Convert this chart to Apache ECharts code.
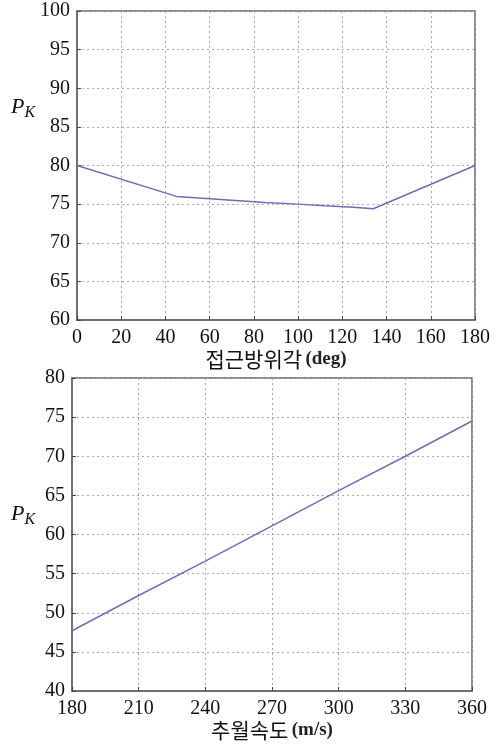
<!DOCTYPE html>
<html>
<head>
<meta charset="utf-8">
<script src="https://cdn.jsdelivr.net/npm/echarts@6/dist/echarts.min.js"></script>
<style>
  html, body { margin: 0; padding: 0; background: #fff; }
  #chart { width: 497px; height: 744px; }
</style>
</head>
<body>
<div id="chart"></div>
<script>
// top plot: approach azimuth (deg) vs P_K
var angleDeg = [0, 45, 55, 65, 75, 85, 100, 112, 125, 134, 180];
var pkAngle = [80, 76, 75.8, 75.6, 75.4, 75.2, 75.0, 74.8, 74.6, 74.4, 80];

// bottom plot: overtaking speed (m/s) vs P_K
var speed = [180, 210, 240, 270, 300, 330, 360];
var pkSpeed = [47.7, 52.2, 56.6, 61.1, 65.6, 70.0, 74.5];

var serif = '"Liberation Serif", "Times New Roman", serif';
var kr = '"Noto Sans CJK KR", sans-serif';
var lineColor = '#6e6eb0';
var gridLine = { show: true, lineStyle: { color: '#a8a8a8', type: [2, 3], width: 1 } };

function pair(xs, ys) {
  return xs.map(function (x, i) { return [x, ys[i]]; });
}

function xAxisCfg(idx, min, max, interval, name, gap) {
  return {
    type: 'value', gridIndex: idx, min: min, max: max, interval: interval,
    axisLine: { show: true, lineStyle: { color: '#666', width: 1.5 } },
    axisTick: { show: true, inside: true, length: 4, lineStyle: { color: '#444' } },
    axisLabel: { color: '#111', fontFamily: serif, fontSize: 20, margin: 8 },
    splitLine: gridLine,
    name: name, nameLocation: 'middle', nameGap: gap,
    nameTextStyle: {
      rich: {
        k: { fontFamily: kr, fontSize: 21, color: '#111' },
        u: { fontFamily: serif, fontSize: 19, fontWeight: 'bold', color: '#222' }
      }
    }
  };
}

function yAxisCfg(idx, min, max) {
  return {
    type: 'value', gridIndex: idx, min: min, max: max, interval: 5,
    axisLine: { show: true, lineStyle: { color: '#666', width: 1.5 } },
    axisTick: { show: true, inside: true, length: 4, lineStyle: { color: '#444' } },
    axisLabel: { color: '#111', fontFamily: serif, fontSize: 20, margin: 7 },
    splitLine: gridLine
  };
}

var pkText = {
  text: '{p|P}{s|K}',
  rich: {
    p: { fontFamily: serif, fontStyle: 'italic', fontSize: 22, fill: '#111' },
    s: { fontFamily: serif, fontStyle: 'italic', fontSize: 16, fill: '#111', padding: [12, 0, 0, 0] }
  }
};

var chart = echarts.init(document.getElementById('chart'));

chart.setOption({
  backgroundColor: '#fff',
  animation: false,
  grid: [
    { left: 77, right: 22, top: 11, height: 309, show: true, borderColor: '#666', borderWidth: 1.5 },
    { left: 72, right: 25, top: 378, height: 313, show: true, borderColor: '#666', borderWidth: 1.5 }
  ],
  xAxis: [
    xAxisCfg(0, 0, 180, 20, '{k|접근방위각} {u|(deg)}', 26),
    xAxisCfg(1, 180, 360, 30, '{k|추월속도} {u|(m/s)}', 27)
  ],
  yAxis: [
    yAxisCfg(0, 60, 100),
    yAxisCfg(1, 40, 80)
  ],
  graphic: [
    { type: 'text', left: 11, top: 96, style: pkText },
    { type: 'text', left: 11, top: 503, style: pkText }
  ],
  series: [
    {
      type: 'line', xAxisIndex: 0, yAxisIndex: 0, data: pair(angleDeg, pkAngle),
      showSymbol: false, lineStyle: { color: lineColor, width: 1.5 }
    },
    {
      type: 'line', xAxisIndex: 1, yAxisIndex: 1, data: pair(speed, pkSpeed),
      showSymbol: false, lineStyle: { color: lineColor, width: 1.5 }
    }
  ]
});
</script>
</body>
</html>
